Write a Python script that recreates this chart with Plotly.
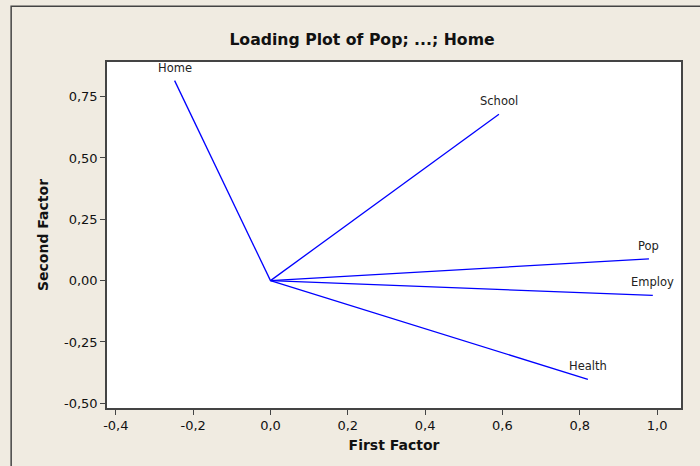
import plotly.graph_objects as go

variables = ["Pop", "School", "Employ", "Health", "Home"]
first_factor = [0.979, 0.591, 0.989, 0.821, -0.248]
second_factor = [0.089, 0.678, -0.060, -0.402, 0.815]

x_ticks = [-0.4, -0.2, 0.0, 0.2, 0.4, 0.6, 0.8, 1.0]
x_tick_labels = ["-0,4", "-0,2", "0,0", "0,2", "0,4", "0,6", "0,8", "1,0"]
y_ticks = [-0.50, -0.25, 0.00, 0.25, 0.50, 0.75]
y_tick_labels = ["-0,50", "-0,25", "0,00", "0,25", "0,50", "0,75"]

FONT = "DejaVu Sans"

fig = go.Figure()
for name, fx, fy in zip(variables, first_factor, second_factor):
    fig.add_trace(go.Scatter(x=[0, fx], y=[0, fy], mode="lines",
                             line=dict(color="#0000FF", width=1.3),
                             name=name, showlegend=False, hoverinfo="skip"))
    fig.add_annotation(x=fx, y=fy, text=name, showarrow=False,
                       yshift=13, font=dict(family=FONT, size=11.5, color="#222"))

L, R, T, B = 107.3, 681, 61.7, 408
W, H = 700, 466
pw, ph = R - L, B - T

fig.add_shape(type="rect", xref="paper", yref="paper",
              x0=(11.5 - L) / pw, x1=(760 - L) / pw,
              y0=(B - 520) / ph, y1=(B - 6) / ph,
              line=dict(color="#444", width=1.5), fillcolor="rgba(0,0,0,0)",
              layer="below")

fig.update_layout(
    width=W, height=H,
    margin=dict(l=L, r=W - R, t=T, b=H - B),
    paper_bgcolor="#F0EBE1", plot_bgcolor="white",
    font=dict(family=FONT, size=13, color="#111"),
    title=dict(text="<b>Loading Plot of Pop; ...; Home</b>", x=362 / W, xanchor="center",
               y=1 - 40 / H, yanchor="middle", font=dict(family=FONT, size=15.7, color="#111")),
    xaxis=dict(range=[-0.4229, 1.0619], tickvals=x_ticks, ticktext=x_tick_labels,
               showgrid=False, zeroline=False, showline=True, mirror=True,
               linecolor="#444", linewidth=1.6, ticks="outside", ticklen=5,
               tickcolor="#444", title=dict(text="<b>First Factor</b>", standoff=8,
                                             font=dict(size=14))),
    yaxis=dict(range=[-0.519, 0.891], tickvals=y_ticks, ticktext=y_tick_labels,
               showgrid=False, zeroline=False, showline=True, mirror=True,
               linecolor="#444", linewidth=1.6, ticks="outside", ticklen=5,
               tickcolor="#444", title=dict(text="<b>Second Factor</b>", standoff=12,
                                             font=dict(size=14))),
)

fig.write_html("out.html", config={"displayModeBar": False},
               post_script="document.body.style.margin='0';")
